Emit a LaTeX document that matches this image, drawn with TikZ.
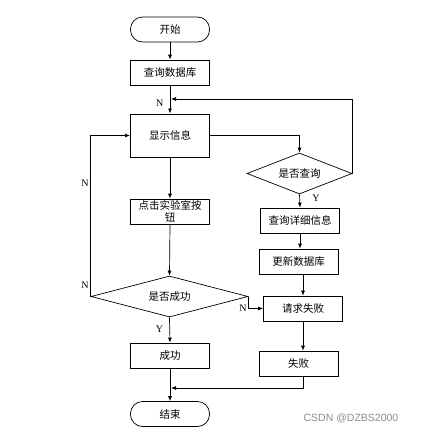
\documentclass[tikz,border=0pt]{standalone}
\usepackage{fontspec}
\setmainfont{Liberation Serif}
\newfontfamily\cjk{Noto Sans CJK SC}
\newfontfamily\wmfont{Liberation Sans}
\usetikzlibrary{arrows.meta,shapes.geometric}

\begin{document}
\begin{tikzpicture}[x=1pt,y=-1pt,
    box/.style={draw, line width=0.7pt, minimum width=79pt, minimum height=25pt, inner sep=1pt,
        align=center, font=\cjk\fontsize{10.5}{11.5}\selectfont},
    term/.style={box, rounded corners=12pt},
    cond/.style={draw, line width=0.7pt, diamond, aspect=2.5, inner sep=0pt,
        minimum height=41pt, font=\cjk\fontsize{10.5}{11.5}\selectfont},
    flow/.style={line width=0.7pt, -{Latex[length=5pt,width=4pt]}},
    lbl/.style={font=\fontsize{10}{11}\selectfont}
]
        \useasboundingbox (0,0) rectangle (426,434);

        % Left column
        \node[term] (start) at (170,29.5) {开始};
        \node[box] (db) at (170,72.5) {查询数据库};
        \node[box, minimum height=43pt, line width=1pt] (show) at (170,135.5) {显示信息};
        \node[box] (click) at (170,211.5) {点击实验室按\\钮};
        \node[cond, minimum width=157pt] (cg) at (169.5,296.5) {是否成功};
        \node[box] (ok) at (170,355.5) {成功};
        \node[term] (end) at (170,414) {结束};

        % Right column
        \node[cond, minimum width=105pt] (cq) at (299.5,173.5) {是否查询};
        \node[box] (detail) at (300,220.5) {查询详细信息};
        \node[box] (upd) at (298.5,261.5) {更新数据库};
        \node[box] (req) at (303,308.5) {请求失败};
        \node[box] (fail) at (298.5,363.5) {失败};

        \coordinate (loopin) at (171,99);
        \coordinate (merge) at (171,388);

        % Main flow
        \draw[flow] (start.south) -- (db.north);
        \draw[flow] (db.south) -- (show.north) node[lbl, pos=0.62, left=3pt] {N};
        \draw[flow] (show.south) -- (click.north);
        \draw[flow] (click.south) -- (cg.north);
        \draw[flow] (cg.south) -- (ok.north) node[lbl, pos=0.45, left=3pt] {Y};
        \draw[flow] (ok.south) -- (end.north);

        % Query branch
        \draw[flow] (show.east) -| (cq.north);
        \draw[flow] (cq.east) |- (loopin);
        \draw[flow] (cq.south) -- (detail.north) node[lbl, pos=0.3, right=9pt] {Y};
        \draw[flow] (detail.south) -- (detail.south |- upd.north);
        \draw[flow] (req.north |- upd.south) -- (req.north);
        \draw[flow] (req.south) -- (req.south |- fail.north);
        \draw[flow] (req.south |- fail.south) |- (merge);

        % No branches
        \draw[flow] (cg.west) |- (show.west);
        \node[lbl] (n1) at (85,183) {N};
        \node[lbl] (n2) at (85,285) {N};
        \draw[flow] (cg.east) |- (req.west) node[lbl, pos=0.6, left=1pt] {N};

        % Watermark
        \node[text=black!45, font=\wmfont\fontsize{10.5}{12}\selectfont] (wm) at (351,418) {CSDN @DZBS2000};
\end{tikzpicture}
\end{document}
